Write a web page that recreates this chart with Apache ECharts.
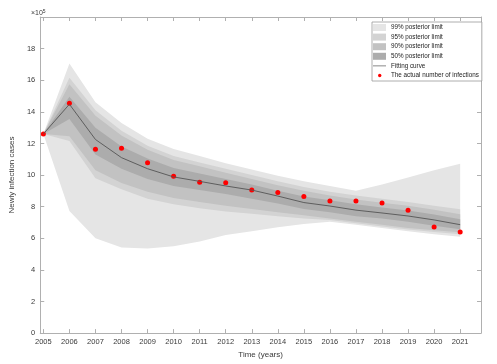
<!DOCTYPE html>
<html>
<head>
<meta charset="utf-8">
<script src="https://cdn.jsdelivr.net/npm/echarts@6/dist/echarts.min.js"></script>
<style>
  html, body { margin: 0; padding: 0; background: #fff; }
  #chart { width: 497px; height: 364px; }
</style>
</head>
<body>
<div id="chart"></div>
<script>
// values are in units of 10^5
const years = [2005, 2006, 2007, 2008, 2009, 2010, 2011, 2012, 2013, 2014, 2015, 2016, 2017, 2018, 2019, 2020, 2021];
const actual  = [12.6, 14.55, 11.64, 11.7, 10.78, 9.92, 9.54, 9.52, 9.05, 8.9, 8.65, 8.36, 8.36, 8.23, 7.77, 6.72, 6.4];
const fitting = [12.6, 14.48, 12.25, 11.1, 10.4, 9.88, 9.6, 9.31, 9.05, 8.67, 8.26, 8.04, 7.78, 7.6, 7.41, 7.16, 6.86];

const upper99 = [12.6, 17.05, 14.6, 13.3, 12.3, 11.65, 11.2, 10.75, 10.35, 9.95, 9.6, 9.3, 9.0, 9.4, 9.85, 10.3, 10.72];
const upper95 = [12.6, 16.15, 14.1, 12.8, 11.85, 11.2, 10.8, 10.4, 10.0, 9.6, 9.25, 8.95, 8.7, 8.5, 8.3, 8.05, 7.83];
const upper90 = [12.6, 15.75, 13.75, 12.5, 11.6, 10.95, 10.55, 10.15, 9.75, 9.35, 9.0, 8.7, 8.45, 8.25, 8.05, 7.8, 7.52];
const upper50 = [12.6, 14.95, 13.0, 11.8, 11.05, 10.45, 10.1, 9.75, 9.4, 9.0, 8.65, 8.4, 8.15, 7.95, 7.75, 7.5, 7.2];
const lower50 = [12.6, 13.55, 11.3, 10.4, 9.75, 9.3, 9.05, 8.8, 8.5, 8.2, 7.85, 7.65, 7.4, 7.25, 7.05, 6.8, 6.57];
const lower90 = [12.6, 12.45, 10.3, 9.5, 8.95, 8.55, 8.3, 8.05, 7.85, 7.65, 7.45, 7.25, 7.05, 6.85, 6.65, 6.5, 6.38];
const lower95 = [12.6, 12.15, 9.8, 9.1, 8.5, 8.15, 7.9, 7.7, 7.55, 7.4, 7.25, 7.15, 6.95, 6.75, 6.55, 6.4, 6.25];
const lower99 = [12.6, 7.73, 6.0, 5.42, 5.35, 5.5, 5.8, 6.2, 6.45, 6.7, 6.9, 7.05, 6.85, 6.65, 6.45, 6.25, 6.1];

const bandNames = ['99% posterior limit', '95% posterior limit', '90% posterior limit', '50% posterior limit'];
const bandColors = ['#e5e5e5', '#d3d3d3', '#c2c2c2', '#acacac'];
const bandUpper = [upper99, upper95, upper90, upper50];
const bandLower = [lower99, lower95, lower90, lower50];

const pairs = arr => years.map((y, i) => [y, arr[i]]);

let chart = echarts.init(document.getElementById('chart'));

let series = [];
bandNames.forEach((name, k) => {
    const up = bandUpper[k], lo = bandLower[k];
    series.push({
        type: 'custom',
        name: name,
        silent: true,
        itemStyle: { color: bandColors[k] },
        data: years.map((y, i) => [y, lo[i], up[i]]),
        encode: { x: 0, y: [1, 2] },
        renderItem: function (params, api) {
            // whole band as one polygon, drawn once
            if (params.dataIndex !== 0) return;
            let pts = [];
            for (let i = 0; i < years.length; i++) pts.push(api.coord([years[i], up[i]]));
            for (let i = years.length - 1; i >= 0; i--) pts.push(api.coord([years[i], lo[i]]));
            return {
                type: 'polygon',
                shape: { points: pts },
                style: { fill: bandColors[k], stroke: null }
            };
        }
    });
});
series.push({
    type: 'line',
    name: 'Fitting curve',
    data: pairs(fitting),
    symbol: 'none',
    lineStyle: { color: '#555', width: 0.9 },
    itemStyle: { color: '#555' }
});
series.push({
    type: 'scatter',
    name: 'The actual number of infections',
    data: pairs(actual),
    symbolSize: 5,
    itemStyle: { color: '#ff0000', opacity: 1 }
});

const axisColor = '#b0b0b0';
const labelColor = '#3a3a3a';
const fontFamily = 'Liberation Sans, Arial, sans-serif';

let option = {
    animation: false,
    textStyle: { fontFamily: fontFamily },
    grid: { left: 31, right: 16, top: 17, bottom: 30 },
    legend: {
        orient: 'vertical',
        left: 372,
        top: 22,
        padding: [2, 3, 2, 1],
        itemWidth: 13,
        itemHeight: 7,
        itemGap: 2.6,
        backgroundColor: '#fff',
        borderColor: '#9a9a9a',
        borderWidth: 0.8,
        borderRadius: 0,
        textStyle: { fontSize: 6.3, color: '#222', lineHeight: 7, fontFamily: fontFamily },
        data: [
            { name: bandNames[0], icon: 'rect' },
            { name: bandNames[1], icon: 'rect' },
            { name: bandNames[2], icon: 'rect' },
            { name: bandNames[3], icon: 'rect' },
            { name: 'Fitting curve', icon: 'path://M0,0 M13,7 M0,3.15 L13,3.15 L13,3.85 L0,3.85z' },
            { name: 'The actual number of infections', icon: 'path://M0,0 M13,7 M5,3.5a1.7,1.7 0 1,0 3.4,0a1.7,1.7 0 1,0 -3.4,0z' }
        ]
    },
    xAxis: [{
        type: 'value',
        min: 2004.88,
        max: 2021.8,
        name: 'Time (years)',
        nameLocation: 'middle',
        nameGap: 16,
        nameTextStyle: { fontSize: 8, color: labelColor },
        splitLine: { show: false },
        axisLine: { show: true, onZero: false, lineStyle: { color: axisColor, width: 1 } },
        axisTick: { show: true, inside: true, length: 4, customValues: years, lineStyle: { color: axisColor } },
        axisLabel: { customValues: years, fontSize: 7.5, color: labelColor, margin: 5, formatter: v => String(v) }
    }, {
        type: 'value',
        position: 'top',
        min: 2004.88,
        max: 2021.8,
        splitLine: { show: false },
        axisLine: { show: true, onZero: false, lineStyle: { color: axisColor, width: 1 } },
        axisTick: { show: true, inside: true, length: 4, customValues: years, lineStyle: { color: axisColor } },
        axisLabel: { show: false }
    }],
    yAxis: [{
        type: 'value',
        min: 0,
        max: 20,
        interval: 2,
        name: 'Newly infection cases',
        nameLocation: 'middle',
        nameGap: 9,
        nameTextStyle: { fontSize: 8, color: labelColor },
        splitLine: { show: false },
        axisLine: { show: true, lineStyle: { color: axisColor, width: 1 } },
        axisTick: { show: true, inside: true, length: 4, lineStyle: { color: axisColor } },
        axisLabel: {
            fontSize: 7.5,
            color: labelColor,
            margin: 5,
            formatter: v => (v >= 20 ? '' : String(v))
        }
    }, {
        type: 'value',
        position: 'right',
        min: 0,
        max: 20,
        interval: 2,
        splitLine: { show: false },
        axisLine: { show: true, lineStyle: { color: axisColor, width: 1 } },
        axisTick: { show: true, inside: true, length: 4, lineStyle: { color: axisColor } },
        axisLabel: { show: false }
    }],
    graphic: [{
        type: 'text',
        left: 31,
        top: 9,
        style: {
            text: '×10{s|5}',
            fontSize: 7,
            fill: labelColor,
            fontFamily: fontFamily,
            rich: { s: { fontSize: 5, verticalAlign: 'top', padding: [0, 0, 4, 0] } }
        }
    }],
    series: series
};

chart.setOption(option);
</script>
</body>
</html>
